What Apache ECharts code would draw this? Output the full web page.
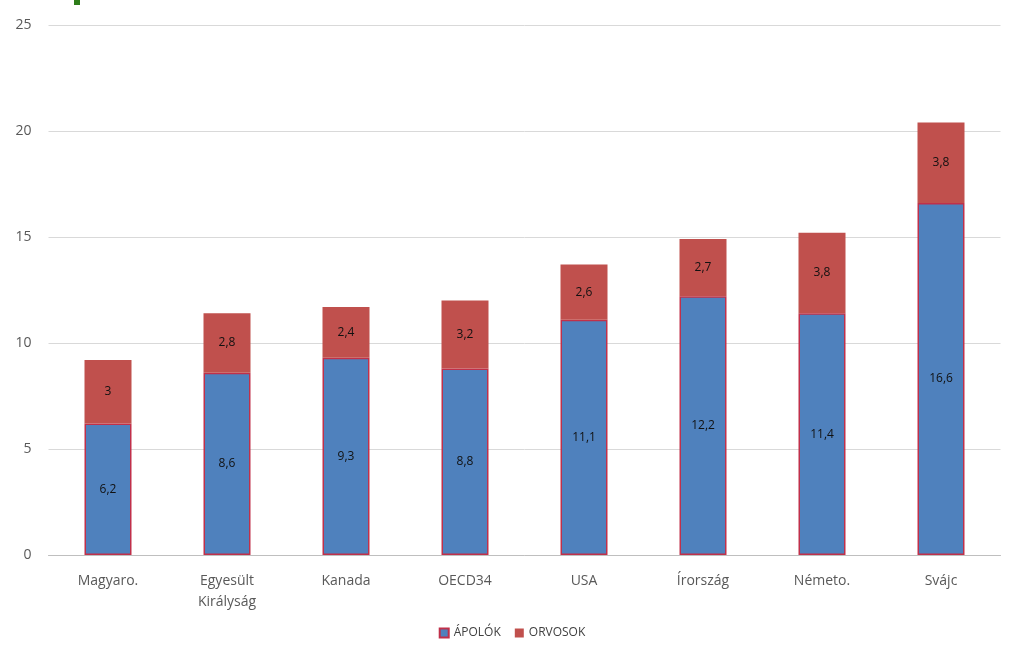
<!DOCTYPE html>
<html><head><meta charset="utf-8">
<script src="https://cdn.jsdelivr.net/npm/echarts@6/dist/echarts.min.js"></script>
<style>html,body{margin:0;padding:0;background:#fff}#c{width:1024px;height:660px}</style>
</head><body><div id="c"></div>
<script>
const categories = ['Magyaro.', 'Egyesült\nKirályság', 'Kanada', 'OECD34', 'USA', 'Írország', 'Németo.', 'Svájc'];
const apolok = [6.2, 8.6, 9.3, 8.8, 11.1, 12.2, 11.4, 16.6];
const orvosok = [3, 2.8, 2.4, 3.2, 2.6, 2.7, 3.8, 3.8];
const yTicks = { min: 0, max: 25, interval: 5 };

const fmt = p => String(p.value).replace('.', ',');
const chart = echarts.init(document.getElementById('c'));
chart.setOption({
  animation: false,
  textStyle: { fontFamily: 'Open Sans, Noto Sans, sans-serif' },
  grid: { left: 48.5, right: 23.5, top: 25, bottom: 105, containLabel: false },
  legend: {
    bottom: 16, left: 'center', itemWidth: 9, itemHeight: 9, itemGap: 14, icon: 'rect',
    textStyle: { fontSize: 12, color: '#404040' },
    data: ['ÁPOLÓK', 'ORVOSOK']
  },
  xAxis: {
    type: 'category', data: categories,
    axisLine: { lineStyle: { color: '#bfbfbf' } },
    axisTick: { show: false },
    axisLabel: { fontSize: 14, color: '#595959', margin: 16, lineHeight: 21 }
  },
  yAxis: {
    type: 'value', min: yTicks.min, max: yTicks.max, interval: yTicks.interval,
    axisLine: { show: false }, axisTick: { show: false },
    splitLine: { lineStyle: { color: '#d9d9d9' } },
    axisLabel: { fontSize: 14, color: '#595959', margin: 17 }
  },
  series: [
    { name: 'ÁPOLÓK', type: 'bar', stack: 's', data: apolok, barWidth: 47,
      itemStyle: { color: '#4F81BD', borderColor: '#C0304A', borderWidth: 1.5 },
      label: { show: true, position: 'inside', formatter: fmt, fontSize: 12, color: '#111' } },
    { name: 'ORVOSOK', type: 'bar', stack: 's', data: orvosok, barWidth: 47,
      itemStyle: { color: '#C0504D' },
      label: { show: true, position: 'inside', formatter: fmt, fontSize: 12, color: '#111' } }
  ],
  graphic: [{ type: 'rect', shape: { x: 74, y: 0, width: 6, height: 5 }, style: { fill: '#2E7D1A' } }]
});
</script></body></html>
